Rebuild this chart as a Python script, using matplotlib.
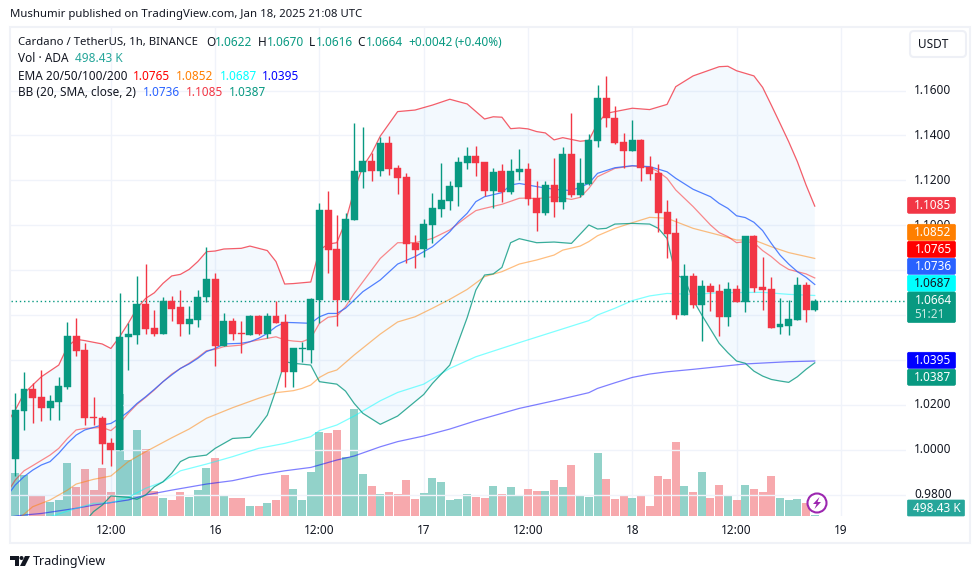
import numpy as np
import matplotlib
matplotlib.use('Agg')
import matplotlib.pyplot as plt
from matplotlib.patches import Rectangle, FancyBboxPatch, Circle, Polygon
from matplotlib.transforms import Affine2D

plt.rcParams['font.family'] = ['Noto Sans', 'DejaVu Sans']

GREEN = '#089981'
RED = '#F23645'
TEXT = '#131722'
GRID = '#f0f3fa'

# hourly candles, first one is Jan 15 01:00
opens = [0.9960, 1.0174, 1.0269, 1.0233, 1.0187, 1.0214, 1.0281, 1.0505, 1.0442, 1.0144,
         1.0140, 1.0028, 1.0000, 1.0500, 1.0512, 1.0647, 1.0541, 1.0517, 1.0661, 1.0634,
         1.0561, 1.0579, 1.0679, 1.0759, 1.0463, 1.0572, 1.0518, 1.0512, 1.0594, 1.0517,
         1.0594, 1.0567, 1.0347, 1.0450, 1.0445, 1.0668, 1.1066, 1.0894, 1.0667, 1.1023,
         1.1237, 1.1286, 1.1241, 1.1366, 1.1255, 1.1215, 1.0921, 1.0894, 1.1001, 1.1072,
         1.1108, 1.1170, 1.1277, 1.1308, 1.1281, 1.1152, 1.1241, 1.1148, 1.1237, 1.1250,
         1.1121, 1.1054, 1.1179, 1.1103, 1.1317, 1.1135, 1.1184, 1.1375, 1.1567, 1.1478,
         1.1371, 1.1331, 1.1380, 1.1259, 1.1233, 1.1059, 1.0965, 1.0600, 1.0774, 1.0644,
         1.0729, 1.0707, 1.0591, 1.0716, 1.0658, 1.0952, 1.0725, 1.0716, 1.0546, 1.0551,
         1.0578, 1.0734, 1.0622]
highs = [1.0251, 1.0345, 1.0295, 1.0353, 1.0242, 1.0322, 1.0569, 1.0585, 1.0474, 1.0233,
         1.0150, 1.0050, 1.0696, 1.0566, 1.0772, 1.0826, 1.0621, 1.0679, 1.0683, 1.0710,
         1.0639, 1.0710, 1.0901, 1.0786, 1.0607, 1.0585, 1.0572, 1.0598, 1.0598, 1.0607,
         1.0661, 1.0603, 1.0451, 1.0481, 1.0674, 1.1097, 1.1151, 1.1045, 1.1053, 1.1454,
         1.1437, 1.1320, 1.1393, 1.1397, 1.1268, 1.1233, 1.0956, 1.1028, 1.1143, 1.1277,
         1.1197, 1.1304, 1.1347, 1.1353, 1.1281, 1.1255, 1.1273, 1.1295, 1.1339, 1.1277,
         1.1197, 1.1197, 1.1299, 1.1348, 1.1500, 1.1299, 1.1406, 1.1625, 1.1665, 1.1531,
         1.1411, 1.1469, 1.1384, 1.1308, 1.1273, 1.1112, 1.1032, 1.0827, 1.0787, 1.0756,
         1.0742, 1.0738, 1.0747, 1.0734, 1.0952, 1.0956, 1.0858, 1.0769, 1.0676, 1.0667,
         1.0769, 1.0747, 1.0670]
lows = [0.9883, 1.0088, 1.0120, 1.0129, 1.0134, 1.0134, 1.0272, 1.0419, 1.0110, 1.0111,
        0.9938, 0.9929, 0.9998, 1.0356, 1.0472, 1.0517, 1.0508, 1.0517, 1.0575, 1.0508,
        1.0517, 1.0548, 1.0656, 1.0374, 1.0463, 1.0490, 1.0432, 1.0512, 1.0511, 1.0496,
        1.0566, 1.0281, 1.0281, 1.0392, 1.0388, 1.0563, 1.0789, 1.0552, 1.0667, 1.1023,
        1.1166, 1.1197, 1.1219, 1.1224, 1.1139, 1.0833, 1.0809, 1.0858, 1.0921, 1.1037,
        1.1068, 1.1086, 1.1250, 1.1219, 1.1130, 1.1077, 1.1103, 1.1139, 1.1201, 1.1090,
        1.0974, 1.1045, 1.1037, 1.1072, 1.1126, 1.1126, 1.1179, 1.1348, 1.1437, 1.1362,
        1.1255, 1.1331, 1.1197, 1.1201, 1.0970, 1.0854, 1.0582, 1.0600, 1.0631, 1.0484,
        1.0618, 1.0506, 1.0551, 1.0658, 1.0613, 1.0702, 1.0622, 1.0542, 1.0515, 1.0511,
        1.0578, 1.0569, 1.0616]
closes = [1.0177, 1.0269, 1.0232, 1.0187, 1.0215, 1.0284, 1.0505, 1.0441, 1.0142, 1.0141,
          1.0027, 1.0000, 1.0500, 1.0514, 1.0647, 1.0539, 1.0515, 1.0664, 1.0628, 1.0561,
          1.0581, 1.0679, 1.0759, 1.0463, 1.0572, 1.0517, 1.0515, 1.0594, 1.0514, 1.0594,
          1.0566, 1.0347, 1.0451, 1.0453, 1.0670, 1.1066, 1.0891, 1.0667, 1.1028, 1.1241,
          1.1286, 1.1241, 1.1366, 1.1250, 1.1210, 1.0916, 1.0889, 1.1005, 1.1077, 1.1112,
          1.1175, 1.1281, 1.1308, 1.1277, 1.1152, 1.1237, 1.1148, 1.1241, 1.1250, 1.1117,
          1.1054, 1.1179, 1.1103, 1.1317, 1.1135, 1.1188, 1.1380, 1.1567, 1.1478, 1.1366,
          1.1331, 1.1380, 1.1255, 1.1228, 1.1054, 1.0961, 1.0600, 1.0774, 1.0644, 1.0729,
          1.0702, 1.0591, 1.0716, 1.0658, 1.0952, 1.0720, 1.0711, 1.0542, 1.0560, 1.0582,
          1.0734, 1.0622, 1.0664]
# volume in millions of ADA
volumes = [21.7, 20.4, 10.5, 10.0, 7.0, 8.0, 26.4, 14.4, 23.4, 12.9,
           23.9, 12.0, 60.8, 27.9, 42.8, 33.4, 12.5, 9.0, 8.0, 12.0,
           9.5, 12.9, 23.9, 28.9, 10.5, 9.0, 9.0, 5.0, 5.0, 6.5,
           8.0, 20.4, 13.4, 8.0, 21.9, 41.8, 41.3, 42.8, 29.4, 53.3,
           20.9, 14.9, 11.0, 12.0, 11.0, 17.9, 8.5, 11.5, 18.9, 16.9,
           8.0, 8.5, 11.0, 9.5, 9.0, 14.9, 11.0, 14.4, 10.5, 13.4,
           12.5, 12.5, 17.9, 14.4, 25.4, 10.0, 9.5, 31.4, 18.4, 8.5,
           10.5, 9.0, 10.0, 5.0, 19.9, 18.4, 36.9, 14.9, 12.0, 21.9,
           9.0, 15.4, 10.0, 8.0, 15.4, 13.4, 12.0, 19.9, 9.0, 8.0,
           8.5, 6.5, 0.498]

# indicator lines, read at the hours where they bend
bb_up_h = [-1, 0, 1, 3, 5, 6, 7, 8, 10, 11, 12, 13, 14, 15, 16, 17, 18, 19, 20, 21, 22, 23, 24, 26, 27, 28, 29, 30,
           31, 32, 34, 35, 36, 37, 38, 39, 40, 41, 42, 44, 46, 48, 50, 52, 54, 55, 56, 57, 58, 59, 60, 61, 62, 63,
           65, 66, 67, 68, 69, 71, 73, 75, 76, 78, 81, 82, 83, 85, 86, 87, 88, 89, 90, 91, 92]
bb_up = [1.0117, 1.0177, 1.0251, 1.0325, 1.0377, 1.0459, 1.0492, 1.0486, 1.0471, 1.0451, 1.0503, 1.0563, 1.0630,
         1.0674, 1.0699, 1.0741, 1.0774, 1.0781, 1.0803, 1.0838, 1.0882, 1.0885, 1.0894, 1.0897, 1.0907, 1.0897,
         1.0887, 1.0838, 1.0738, 1.0740, 1.0747, 1.0889, 1.0916, 1.0922, 1.1016, 1.1157, 1.1261, 1.1320, 1.1397,
         1.1506, 1.1513, 1.1535, 1.1561, 1.1540, 1.1473, 1.1483, 1.1481, 1.1430, 1.1433, 1.1429, 1.1417, 1.1411,
         1.1380, 1.1390, 1.1374, 1.1378, 1.1454, 1.1498, 1.1506, 1.1521, 1.1515, 1.1538, 1.1617, 1.1665, 1.1706,
         1.1708, 1.1688, 1.1665, 1.1614, 1.1535, 1.1454, 1.1372, 1.1283, 1.1179, 1.1085]
bb_lo_h = [-1, 0, 3, 5, 7, 8, 9, 10, 11, 13, 14, 15, 16, 17, 18, 19, 20, 22, 23, 25, 27, 28, 29, 30, 31, 32, 34, 35,
           37, 38, 39, 40, 42, 44, 47, 48, 50, 52, 53, 54, 55, 56, 57, 58, 60, 62, 64, 66, 67, 68, 69, 71, 73, 74,
           75, 76, 77, 78, 79, 81, 82, 83, 84, 85, 86, 87, 88, 89, 90, 91, 92]
bb_lo = [0.9404, 0.9434, 0.9508, 0.9568, 0.9627, 0.9679, 0.9724, 0.9753, 0.9794, 0.9788, 0.9779, 0.9798, 0.9835,
         0.9857, 0.9895, 0.9947, 0.9966, 0.9976, 1.0006, 1.0050, 1.0055, 1.0102, 1.0154, 1.0266, 1.0392, 1.0385,
         1.0377, 1.0303, 1.0292, 1.0261, 1.0206, 1.0162, 1.0113, 1.0150, 1.0246, 1.0295, 1.0377, 1.0588, 1.0711,
         1.0778, 1.0783, 1.0812, 1.0922, 1.0940, 1.0922, 1.0925, 1.0919, 1.1001, 1.0983, 1.0986, 1.1005, 1.1008,
         1.1005, 1.0986, 1.0941, 1.0778, 1.0763, 1.0667, 1.0600, 1.0474, 1.0432, 1.0395, 1.0385, 1.0350, 1.0328,
         1.0313, 1.0306, 1.0300, 1.0325, 1.0358, 1.0387]
bb_mid_h = [-1, 0, 1, 2, 3, 4, 5, 6, 7, 8, 10, 11, 12, 13, 14, 15, 16, 17, 18, 19, 20, 21, 22, 23, 24, 26, 27, 28, 29,
            30, 31, 32, 34, 35, 36, 37, 38, 39, 40, 42, 44, 46, 48, 50, 51, 52, 53, 54, 56, 57, 58, 59, 60, 62, 64,
            66, 67, 69, 71, 73, 75, 76, 78, 80, 81, 82, 83, 84, 85, 86, 87, 88, 89, 90, 91, 92]
bb_mid = [0.9791, 0.9843, 0.9880, 0.9909, 0.9932, 0.9947, 0.9984, 1.0028, 1.0065, 1.0088, 1.0110, 1.0117, 1.0140,
          1.0169, 1.0206, 1.0236, 1.0269, 1.0303, 1.0333, 1.0362, 1.0382, 1.0407, 1.0437, 1.0451, 1.0471, 1.0474,
          1.0481, 1.0496, 1.0518, 1.0548, 1.0567, 1.0566, 1.0563, 1.0592, 1.0607, 1.0607, 1.0630, 1.0667, 1.0704,
          1.0756, 1.0827, 1.0860, 1.0904, 1.0971, 1.1016, 1.1053, 1.1105, 1.1127, 1.1145, 1.1179, 1.1186, 1.1179,
          1.1172, 1.1160, 1.1154, 1.1186, 1.1231, 1.1256, 1.1265, 1.1261, 1.1238, 1.1209, 1.1160, 1.1127, 1.1097,
          1.1075, 1.1042, 1.1034, 1.1013, 1.0976, 1.0919, 1.0867, 1.0827, 1.0793, 1.0768, 1.0736]
ema20_h = [-1, 0, 1, 2, 4, 5, 6, 7, 8, 10, 11, 12, 13, 14, 15, 16, 17, 18, 19, 20, 21, 22, 23, 24, 26, 27, 28, 29, 30,
           31, 32, 33, 34, 35, 36, 37, 38, 39, 40, 42, 44, 46, 48, 50, 52, 53, 54, 56, 58, 59, 60, 62, 64, 65, 66,
           67, 69, 71, 73, 74, 75, 76, 78, 80, 81, 82, 83, 84, 85, 86, 87, 88, 89, 90, 91, 92]
ema20 = [0.9805, 0.9865, 0.9906, 0.9929, 0.9976, 1.0006, 1.0050, 1.0088, 1.0095, 1.0099, 1.0085, 1.0117, 1.0162,
         1.0202, 1.0233, 1.0266, 1.0303, 1.0337, 1.0362, 1.0385, 1.0411, 1.0441, 1.0447, 1.0459, 1.0466, 1.0481,
         1.0489, 1.0496, 1.0503, 1.0489, 1.0484, 1.0481, 1.0496, 1.0563, 1.0590, 1.0595, 1.0637, 1.0696, 1.0748,
         1.0852, 1.0922, 1.0922, 1.0941, 1.0979, 1.1038, 1.1065, 1.1075, 1.1093, 1.1120, 1.1121, 1.1118, 1.1127,
         1.1115, 1.1124, 1.1164, 1.1216, 1.1253, 1.1264, 1.1258, 1.1238, 1.1209, 1.1157, 1.1083, 1.1001, 1.0967,
         1.0949, 1.0922, 1.0927, 1.0922, 1.0887, 1.0860, 1.0827, 1.0803, 1.0793, 1.0783, 1.0765]
ema50_h = [-1, 0, 2, 4, 6, 7, 9, 11, 13, 15, 18, 20, 22, 25, 28, 30, 32, 33, 34, 35, 36, 37, 39, 42, 44, 46, 48, 50,
           52, 54, 56, 58, 60, 62, 63, 65, 66, 67, 69, 71, 73, 75, 78, 81, 83, 85, 87, 89, 92]
ema50 = [0.9627, 0.9679, 0.9746, 0.9776, 0.9820, 0.9847, 0.9868, 0.9883, 0.9947, 0.9991, 1.0053, 1.0092, 1.0140,
         1.0187, 1.0229, 1.0254, 1.0263, 1.0273, 1.0288, 1.0322, 1.0343, 1.0355, 1.0422, 1.0515, 1.0569, 1.0592,
         1.0630, 1.0670, 1.0714, 1.0771, 1.0793, 1.0827, 1.0845, 1.0867, 1.0889, 1.0907, 1.0927, 1.0953, 1.0986,
         1.1011, 1.1035, 1.1031, 1.0986, 1.0956, 1.0934, 1.0934, 1.0904, 1.0878, 1.0852]
ema100_h = [-1, 2, 4, 7, 9, 11, 13, 15, 17, 19, 22, 25, 28, 31, 34, 35, 37, 39, 42, 44, 47, 50, 53, 58, 62, 66, 67,
            69, 71, 73, 75, 78, 81, 86, 89, 92]
ema100 = [0.9598, 0.9664, 0.9701, 0.9739, 0.9761, 0.9764, 0.9788, 0.9828, 0.9857, 0.9906, 0.9936, 0.9969, 1.0006,
          1.0028, 1.0058, 1.0085, 1.0110, 1.0150, 1.0218, 1.0255, 1.0292, 1.0362, 1.0414, 1.0477, 1.0526, 1.0575,
          1.0600, 1.0630, 1.0664, 1.0685, 1.0696, 1.0692, 1.0699, 1.0701, 1.0692, 1.0687]
ema200_h = [-1, 1, 3, 7, 9, 13, 15, 18, 22, 25, 28, 31, 34, 35, 37, 39, 42, 44, 47, 50, 53, 58, 62, 66, 67, 69, 71,
            73, 75, 78, 81, 84, 89, 92]
ema200 = [0.9699, 0.9709, 0.9716, 0.9739, 0.9753, 0.9776, 0.9798, 0.9820, 0.9847, 0.9862, 0.9887, 0.9906, 0.9921,
          0.9932, 0.9954, 0.9972, 1.0013, 1.0036, 1.0061, 1.0092, 1.0129, 1.0184, 1.0218, 1.0254, 1.0273, 1.0298,
          1.0322, 1.0337, 1.0347, 1.0358, 1.0370, 1.0382, 1.0392, 1.0395]

price_ticks = [0.98, 1.00, 1.02, 1.04, 1.06, 1.08, 1.10, 1.12, 1.14, 1.16]
time_ticks = [11, 23, 35, 47, 59, 71, 83, 95]
time_labels = ['12:00', '16', '12:00', '17', '12:00', '18', '12:00', '19']

W, H = 980, 579
fig = plt.figure(figsize=(W / 100, H / 100), dpi=100, facecolor='white')
px = Affine2D().scale(1, -1).translate(0, H)   # pixels from top left


def txt(x, y, s, color=TEXT, size=8.5, ha='left', **kw):
    return fig.text(x / W, 1 - y / H, s, color=color, fontsize=size, ha=ha, va='center', **kw)


# chart frame
fig.add_artist(Rectangle((10, 27), 960, 516, transform=px, fill=False, edgecolor='#f0f2f7', linewidth=1.5))

# volume sits behind the price pane
axv = fig.add_axes([11 / W, 1 - 516 / H, 895 / W, 488 / H])
axv.set_xlim(-0.495, 102.5)
axv.set_ylim(0, 243.5)
axv.set_yticks([])
for s in axv.spines.values():
    s.set_visible(False)
axv.set_xticks(time_ticks)
axv.set_xticklabels(time_labels, fontsize=8.5, color=TEXT)
axv.tick_params(axis='x', length=0, pad=5.5)
axv.grid(axis='x', color=GRID, linewidth=1)
axv.set_axisbelow(True)
xs = np.arange(len(closes))
up = np.array(closes) >= np.array(opens)
axv.bar(xs, volumes, width=0.92, color=np.where(up, '#92d2c9', '#f7a9ad'), linewidth=0, zorder=2)

ax = fig.add_axes(axv.get_position(), sharex=axv, facecolor='none')
ax.set_ylim(0.97047, 1.18784)
ax.yaxis.tick_right()
ax.set_yticks(price_ticks)
ax.set_yticklabels(['%.4f' % p for p in price_ticks], fontsize=8.5, color=TEXT, va='center')
ax.tick_params(axis='y', length=0, pad=6)
ax.tick_params(axis='x', length=0, labelbottom=False)
ax.grid(axis='y', color=GRID, linewidth=1)
ax.set_axisbelow(True)
for s in ax.spines.values():
    s.set_visible(False)

# bollinger band fill and the indicator lines
ax.fill(np.r_[bb_up_h, bb_lo_h[::-1]], np.r_[bb_up, bb_lo[::-1]], color='#2196f3', alpha=0.05, linewidth=0, zorder=1)
ax.plot(ema200_h, ema200, color='#0000ff', alpha=0.5, lw=0.9, zorder=2)
ax.plot(ema100_h, ema100, color='#00ffff', alpha=0.5, lw=0.9, zorder=2)
ax.plot(ema50_h, ema50, color='#ff7f00', alpha=0.5, lw=0.9, zorder=2)
ax.plot(ema20_h, ema20, color='#ff0000', alpha=0.45, lw=0.9, zorder=2)
ax.plot(bb_mid_h, bb_mid, color='#2962ff', alpha=0.8, lw=0.9, zorder=2)
ax.plot(bb_up_h, bb_up, color=RED, alpha=0.8, lw=0.9, zorder=2)
ax.plot(bb_lo_h, bb_lo, color=GREEN, alpha=0.8, lw=0.9, zorder=2)

# last price line
ax.axhline(closes[-1], color=GREEN, linestyle=(0, (1, 2)), linewidth=1, zorder=2)

# candles
colors = np.where(up, GREEN, RED)
ax.vlines(xs, lows, highs, colors=colors, linewidth=1, zorder=3)
ax.bar(xs, np.array(closes) - np.array(opens), bottom=opens, width=0.8, color=colors,
       edgecolor=colors, linewidth=0.3, zorder=4)

# header text
txt(10, 15, 'Mushumir published on TradingView.com, Jan 18, 2025 21:08 UTC', size=8.2)
txt(18, 42, 'Cardano / TetherUS, 1h, BINANCE', size=8.15)
for x, s in [(206, 'O'), (258, 'H'), (309, 'L'), (357, 'C')]:
    txt(x, 42, s)
for x, s in [(215, '1.0622'), (266.5, '1.0670'), (316, '1.0616'), (366, '1.0664'), (408, '+0.0042'), (454, '(+0.40%)')]:
    txt(x, 42, s, color=GREEN)
txt(18, 59, 'Vol · ADA')
txt(75, 59, '498.43 K', color='#26a69a')
txt(18, 76, 'EMA 20/50/100/200')
for x, s, c in [(133, '1.0765', '#ff0000'), (176, '1.0852', '#ff7f00'), (220, '1.0687', '#00ffff'), (262, '1.0395', '#0000ff')]:
    txt(x, 76, s, color=c)
txt(18, 93, 'BB (20, SMA, close, 2)')
for x, s, c in [(143, '1.0736', '#2962ff'), (186, '1.1085', RED), (229, '1.0387', GREEN)]:
    txt(x, 93, s, color=c)

# price labels on the right
for y, s, c, tc in [(205.3, '1.1085', RED, 'white'), (232.3, '1.0852', '#ff7f00', 'white'),
                    (249.3, '1.0765', '#ff0000', 'white'), (266.3, '1.0736', '#2962ff', 'white'),
                    (283.3, '1.0687', '#00ffff', TEXT), (360.3, '1.0395', '#0000ff', 'white'),
                    (377.3, '1.0387', GREEN, 'white')]:
    fig.add_artist(FancyBboxPatch((907.5, y - 8), 48, 16, boxstyle='round,pad=0,rounding_size=1.5', transform=px,
                                  facecolor=c, edgecolor=c, linewidth=0.5, zorder=5))
    txt(933, y, s, color=tc, ha='center', zorder=6)
fig.add_artist(FancyBboxPatch((907.5, 292), 48, 30.5, boxstyle='round,pad=0,rounding_size=1.5', transform=px,
                              facecolor=GREEN, edgecolor=GREEN, linewidth=0.5, zorder=5))
txt(933, 300.5, '1.0664', color='white', ha='center', zorder=6)
txt(929, 315, '51:21', color='#c7e8e2', ha='center', zorder=6)
fig.add_artist(FancyBboxPatch((907.5, 500), 57, 16, boxstyle='round,pad=0,rounding_size=1', transform=px,
                              facecolor='#26a69a', edgecolor='#26a69a', linewidth=0.5, zorder=5))
txt(937, 508, '498.43 K', color='white', ha='center', zorder=6)

# USDT button
fig.add_artist(FancyBboxPatch((910, 31), 56, 26, boxstyle='round,pad=0,rounding_size=4', transform=px,
                              facecolor='white', edgecolor='#eef0f6', linewidth=1.5, zorder=5))
txt(933, 44, 'USDT', ha='center', zorder=6)

# lightning badge
fig.add_artist(Circle((817, 503), 9.5, transform=px, facecolor='white', edgecolor='#9c27b0', linewidth=1.5, zorder=5))
fig.add_artist(Polygon([(819.5, 497), (813, 504), (816.5, 504), (814.5, 509), (821, 502), (817.5, 502)], closed=True,
                       transform=px, facecolor='#9c27b0', edgecolor='none', zorder=6))

# TradingView logo
fig.add_artist(Polygon([(10, 556), (19, 556), (19, 566), (15, 566), (15, 560), (10, 560)], closed=True, transform=px,
                       facecolor=TEXT, edgecolor='none'))
fig.add_artist(Circle((21.5, 558), 2, transform=px, facecolor=TEXT, edgecolor='none'))
fig.add_artist(Polygon([(25, 556), (30, 556), (25, 566), (20, 566)], closed=True, transform=px,
                       facecolor=TEXT, edgecolor='none'))
txt(33, 561, 'TradingView', size=9)

fig.savefig('out.png', dpi=100)
